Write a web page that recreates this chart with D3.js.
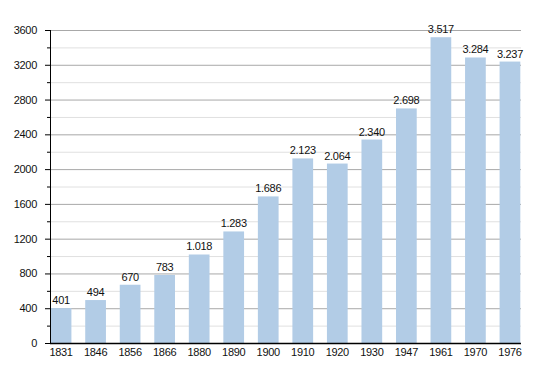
<!DOCTYPE html>
<html><head><meta charset="utf-8">
<script src="https://cdn.jsdelivr.net/npm/d3@7"></script>
<style>body{margin:0;background:#fff}svg{display:block}text{font-family:"Liberation Sans",Arial,sans-serif;letter-spacing:-0.3px}</style>
</head><body>
<script>
const years = ["1831","1846","1856","1866","1880","1890","1900","1910","1920","1930","1947","1961","1970","1976"];
const population = [401,494,670,783,1018,1283,1686,2123,2064,2340,2698,3517,3284,3237];
const yTicks = [0,400,800,1200,1600,2000,2400,2800,3200,3600];
const yMinor = [200,600,1000,1400,1800,2200,2600,3000,3400];

const W=550,H=373, L=50, R=521, T=30, B=343;
const svg=d3.select("body").append("svg").attr("width",W).attr("height",H);
const x=d3.scaleBand().domain(years).range([L,R]).paddingInner(0.4).paddingOuter(0.02);
const y=d3.scaleLinear().domain([0,3600]).range([B,T]);
const fmt=v=>d3.format(",")(v).replace(/,/g,".");

svg.append("g").selectAll("line").data(yMinor).join("line")
  .attr("x1",L).attr("x2",R).attr("y1",d=>y(d)+0.5).attr("y2",d=>y(d)+0.5)
  .attr("stroke","#e0e0e0").attr("stroke-width",1);
svg.append("g").selectAll("line").data(yTicks.filter(d=>d>0)).join("line")
  .attr("x1",L).attr("x2",R).attr("y1",d=>y(d)+0.5).attr("y2",d=>y(d)+0.5)
  .attr("stroke","#a8a8a8").attr("stroke-width",1);

svg.append("g").selectAll("rect").data(population).join("rect")
  .attr("x",(d,i)=>x(years[i])).attr("width",x.bandwidth())
  .attr("y",d=>y(d)).attr("height",d=>B-y(d)).attr("fill","#b2cce6");

svg.append("g").selectAll("text").data(population).join("text")
  .attr("x",(d,i)=>x(years[i])+x.bandwidth()/2).attr("y",d=>y(d)-4)
  .attr("text-anchor","middle").attr("font-size",11).attr("fill","#111").text(fmt);

// y axis
const ya=svg.append("g").attr("transform",`translate(${L},0)`)
  .call(d3.axisLeft(y).tickValues(yTicks).tickSize(5).tickPadding(8).tickFormat(d3.format("d")));
ya.select(".domain").remove();
ya.selectAll("text").attr("font-size",11).attr("fill","#111").attr("font-family","Liberation Sans, Arial, sans-serif");
ya.selectAll("line").attr("stroke","#000");
svg.append("g").selectAll("line").data(yMinor).join("line")
  .attr("x1",L-3).attr("x2",L).attr("y1",d=>y(d)+0.5).attr("y2",d=>y(d)+0.5).attr("stroke","#000");
svg.append("line").attr("x1",L+0.5).attr("x2",L+0.5).attr("y1",T).attr("y2",B).attr("stroke","#000");

// x axis
const xa=svg.append("g").attr("transform",`translate(0,${B})`)
  .call(d3.axisBottom(x).tickSize(0).tickPadding(5));
xa.select(".domain").remove();
xa.selectAll("text").attr("font-size",11).attr("fill","#111").attr("font-family","Liberation Sans, Arial, sans-serif");
svg.append("line").attr("x1",L).attr("x2",R).attr("y1",B+0.5).attr("y2",B+0.5).attr("stroke","#000").attr("stroke-width",1.3);
</script>
</body></html>
